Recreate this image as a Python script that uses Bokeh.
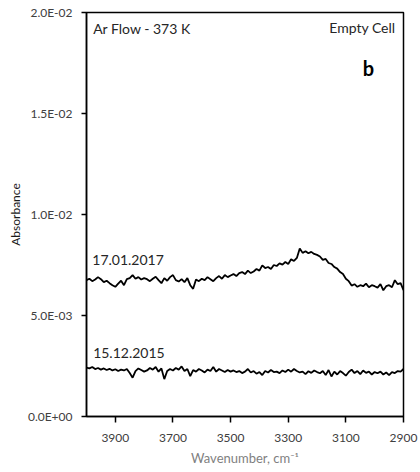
from bokeh.plotting import figure
from bokeh.models import Range1d, FixedTicker, CustomJSTickFormatter, Label
from bokeh.embed import file_html
from bokeh.resources import INLINE

# wavenumber grid, cm-1 (4000 -> 2900, step 10)
wavenumber = list(range(4000, 2899, -10))

abs_2017 = [
    0.00675, 0.00682, 0.00670, 0.00678, 0.00690, 0.00680, 0.00665, 0.00672, 0.00660, 0.00650, 0.00642,
    0.00658, 0.00672, 0.00650, 0.00680, 0.00685, 0.00700, 0.00682, 0.00690, 0.00678, 0.00685,
    0.00680, 0.00670, 0.00682, 0.00692, 0.00675, 0.00660, 0.00685, 0.00672, 0.00690, 0.00700,
    0.00675, 0.00668, 0.00680, 0.00665, 0.00685, 0.00650, 0.00632, 0.00678, 0.00670, 0.00682,
    0.00675, 0.00690, 0.00680, 0.00670, 0.00685, 0.00695, 0.00682, 0.00700, 0.00690, 0.00698,
    0.00705, 0.00695, 0.00710, 0.00715, 0.00705, 0.00722, 0.00710, 0.00718, 0.00730, 0.00722,
    0.00748, 0.00735, 0.00740, 0.00730, 0.00750, 0.00745, 0.00758, 0.00752, 0.00765, 0.00755,
    0.00778, 0.00770, 0.00785, 0.00832, 0.00810, 0.00818, 0.00808, 0.00815, 0.00805, 0.00800,
    0.00792, 0.00775, 0.00780, 0.00760, 0.00755, 0.00740, 0.00732, 0.00715, 0.00705, 0.00682,
    0.00670, 0.00648, 0.00655, 0.00642, 0.00650, 0.00645, 0.00658, 0.00640, 0.00650, 0.00645,
    0.00638, 0.00655, 0.00625, 0.00645, 0.00650, 0.00640, 0.00675, 0.00655, 0.00660, 0.00625,
]

abs_2015 = [
    0.00242, 0.00238, 0.00245, 0.00235, 0.00240, 0.00232, 0.00238, 0.00230, 0.00236, 0.00228, 0.00234,
    0.00225, 0.00232, 0.00228, 0.00235, 0.00215, 0.00192, 0.00225, 0.00238, 0.00230, 0.00222,
    0.00228, 0.00240, 0.00232, 0.00245, 0.00222, 0.00238, 0.00185, 0.00225, 0.00235, 0.00228,
    0.00240, 0.00232, 0.00248, 0.00225, 0.00235, 0.00200, 0.00230, 0.00222, 0.00235, 0.00228,
    0.00218, 0.00232, 0.00225, 0.00245, 0.00222, 0.00235, 0.00228, 0.00220, 0.00230, 0.00222,
    0.00228, 0.00220, 0.00225, 0.00215, 0.00222, 0.00235, 0.00218, 0.00225, 0.00212, 0.00220,
    0.00205, 0.00225, 0.00218, 0.00230, 0.00220, 0.00222, 0.00215, 0.00228, 0.00220, 0.00232,
    0.00222, 0.00235, 0.00225, 0.00218, 0.00222, 0.00210, 0.00224, 0.00216, 0.00228, 0.00220,
    0.00214, 0.00225, 0.00205, 0.00230, 0.00198, 0.00222, 0.00208, 0.00225, 0.00215, 0.00202,
    0.00220, 0.00232, 0.00215, 0.00225, 0.00210, 0.00228, 0.00216, 0.00222, 0.00208, 0.00220,
    0.00214, 0.00222, 0.00208, 0.00218, 0.00205, 0.00220, 0.00215, 0.00225, 0.00222, 0.00235,
]

x_ticks = [3900, 3700, 3500, 3300, 3100, 2900]
y_ticks = [0.0, 0.005, 0.01, 0.015, 0.02]

FONT = "Lato"

p = figure(width=420, height=472, output_backend="svg", toolbar_location=None,
           x_range=Range1d(4000, 2900), y_range=Range1d(0, 0.02),
           min_border_left=86, min_border_right=17, min_border_top=12, min_border_bottom=56)

p.line(wavenumber, abs_2017, line_color="black", line_width=1.8)
p.line(wavenumber, abs_2015, line_color="black", line_width=1.8)

p.xgrid.visible = False
p.ygrid.visible = False
p.outline_line_color = "black"
p.outline_line_width = 1.5
p.background_fill_color = "white"
p.border_fill_color = "white"

xa = p.xaxis[0]
xa.ticker = FixedTicker(ticks=x_ticks)
xa.axis_label = "Wavenumber, cm\u207b\u00b9"
xa.axis_label_text_font = FONT
xa.axis_label_text_font_style = "normal"
xa.axis_label_text_font_size = "13px"
xa.axis_label_text_color = "#7f7f7f"
xa.axis_label_standoff = 5
xa.major_label_text_font = FONT
xa.major_label_text_font_size = "12px"
xa.major_label_text_color = "#404040"
xa.major_label_standoff = 11
xa.major_tick_out = 6
xa.major_tick_in = 0
xa.minor_tick_out = 0
xa.minor_tick_in = 0
xa.axis_line_color = "black"
xa.axis_line_width = 1.5
xa.major_tick_line_color = "black"
xa.major_tick_line_width = 1.5

ya = p.yaxis[0]
ya.ticker = FixedTicker(ticks=y_ticks)
ya.formatter = CustomJSTickFormatter(code=r"""
const s = tick.toExponential(1).toUpperCase();
const m = s.match(/^(.*E)([+-])(\d+)$/);
return m[1] + m[2] + m[3].padStart(2, '0');
""")
ya.axis_label = "Absorbance"
ya.axis_label_text_font = FONT
ya.axis_label_text_font_style = "normal"
ya.axis_label_text_font_size = "12px"
ya.axis_label_text_color = "#1a1a1a"
ya.axis_label_standoff = 2
ya.major_label_text_font = FONT
ya.major_label_text_font_size = "12px"
ya.major_label_text_color = "#404040"
ya.major_label_standoff = 9
ya.major_tick_out = 5
ya.major_tick_in = 0
ya.minor_tick_out = 0
ya.minor_tick_in = 0
ya.axis_line_color = "black"
ya.axis_line_width = 1.5
ya.major_tick_line_color = "black"
ya.major_tick_line_width = 1.5

def add_label(x, y, text, align="left", size="14px", style="normal", color="#262626"):
    p.add_layout(Label(x=x, y=y, text=text, text_align=align, text_baseline="middle",
                       text_font=FONT, text_font_size=size, text_font_style=style,
                       text_color=color))

add_label(3977, 0.01922, "Ar Flow - 373 K")
add_label(2928, 0.01924, "Empty Cell", align="right")
add_label(3022, 0.01724, "b", align="center", size="20px", style="bold", color="black")
add_label(3980, 0.00773, "17.01.2017")
add_label(3977, 0.00315, "15.12.2015")

open("out.html", "w").write(file_html(p, INLINE))
